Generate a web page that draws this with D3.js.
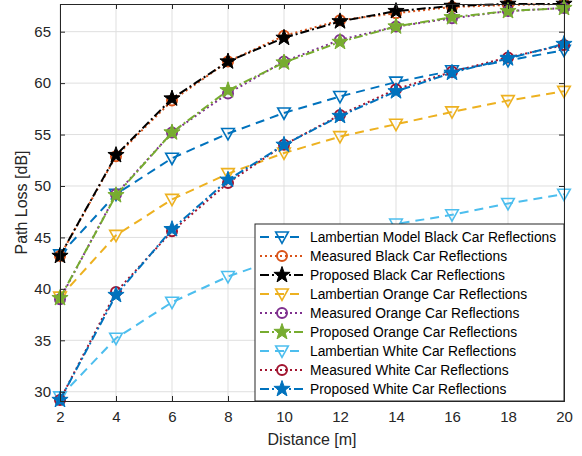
<!DOCTYPE html>
<html>
<head>
<meta charset="utf-8">
<script src="https://d3js.org/d3.v7.min.js"></script>
<style>
  body { margin: 0; background: #fff; }
  svg { display: block; font-family: "Liberation Sans", Arial, sans-serif; }
</style>
</head>
<body>
<div id="chart"></div>
<script>
// data
var distance = [2, 4, 6, 8, 10, 12, 14, 16, 18, 20];

var lambBlack   = [43.3, 49.2, 52.7, 55.1, 57.1, 58.7, 60.1, 61.2, 62.2, 63.2];
var measBlack   = [43.2, 52.9, 58.3, 62.1, 64.6, 66.1, 66.8, 67.4, 67.6, 67.7];
var propBlack   = [43.2, 53.0, 58.5, 62.1, 64.4, 66.0, 67.0, 67.5, 67.7, 67.7];
var lambOrange  = [39.2, 45.2, 48.7, 51.2, 53.2, 54.8, 56.0, 57.2, 58.3, 59.2];
var measOrange  = [39.0, 49.2, 55.2, 59.0, 62.1, 64.2, 65.5, 66.3, 67.0, 67.3];
var propOrange  = [39.1, 49.1, 55.2, 59.3, 62.0, 64.0, 65.5, 66.4, 67.0, 67.3];
var lambWhite   = [29.5, 35.2, 38.7, 41.2, 43.1, 44.8, 46.3, 47.2, 48.3, 49.2];
var measWhite   = [29.2, 39.7, 45.6, 50.3, 54.0, 56.9, 59.4, 61.1, 62.5, 63.7];
var propWhite   = [29.2, 39.4, 45.8, 50.6, 54.0, 56.8, 59.2, 61.0, 62.4, 63.8];

var xTicks = [2, 4, 6, 8, 10, 12, 14, 16, 18, 20];
var yTicks = [30, 35, 40, 45, 50, 55, 60, 65];

var series = [
  {name: "Lambertian Model Black Car Reflections", values: lambBlack,  color: "#0072BD", dash: "9,6",       marker: "tri"},
  {name: "Measured Black Car Reflections",         values: measBlack,  color: "#D95319", dash: "2,3",       marker: "circle"},
  {name: "Proposed Black Car Reflections",         values: propBlack,  color: "#000000", dash: "9,3,2,3",   marker: "star"},
  {name: "Lambertian Orange Car Reflections",      values: lambOrange, color: "#EDB120", dash: "9,6",       marker: "tri"},
  {name: "Measured Orange Car Reflections",        values: measOrange, color: "#7E2F8E", dash: "2,3",       marker: "circle"},
  {name: "Proposed Orange Car Reflections",        values: propOrange, color: "#77AC30", dash: "9,3,2,3",   marker: "star"},
  {name: "Lambertian White Car Reflections",       values: lambWhite,  color: "#4DBEEE", dash: "9,6",       marker: "tri"},
  {name: "Measured White Car Reflections",         values: measWhite,  color: "#A2142F", dash: "2,3",       marker: "circle"},
  {name: "Proposed White Car Reflections",         values: propWhite,  color: "#0072BD", dash: "9,3,2,3",   marker: "star"}
];

var W = 582, H = 456;
var padL = 60, padR = 564, padT = 4, padB = 401;

var svg = d3.select("#chart").append("svg").attr("width", W).attr("height", H);

var x = d3.scaleLinear().domain([2, 20]).range([padL, padR]);
var y = d3.scaleLinear().domain([29.1, 67.69]).range([padB, padT]);

// grid
var grid = svg.append("g");
grid.selectAll(".gx").data(xTicks).enter().append("line")
  .attr("x1", d => x(d)).attr("x2", d => x(d)).attr("y1", padT).attr("y2", padB)
  .attr("stroke", "#dfdfdf").attr("stroke-width", 1);
grid.selectAll(".gy").data(yTicks).enter().append("line")
  .attr("x1", padL).attr("x2", padR).attr("y1", d => y(d)).attr("y2", d => y(d))
  .attr("stroke", "#dfdfdf").attr("stroke-width", 1);

// markers
function starPath(ro) {
  var ri = ro * 0.4, p = [];
  for (var i = 0; i < 10; i++) {
    var r = i % 2 ? ri : ro;
    var a = -Math.PI / 2 + i * Math.PI / 5;
    p.push([r * Math.cos(a), r * Math.sin(a)]);
  }
  return "M" + p.join("L") + "Z";
}
var triPath = "M-6.3,-5L6.3,-5L0,6.3Z";

function drawMarker(g, type, color) {
  if (type === "tri") {
    g.append("path").attr("d", triPath).attr("fill", "none")
      .attr("stroke", color).attr("stroke-width", 1.6);
  } else if (type === "circle") {
    g.append("circle").attr("r", 5).attr("fill", "none")
      .attr("stroke", color).attr("stroke-width", 2);
  } else {
    g.append("path").attr("d", starPath(8.5)).attr("fill", color)
      .attr("stroke", color).attr("stroke-width", 1);
  }
}

var line = d3.line().x(d => x(d[0])).y(d => y(d[1]));

var plot = svg.append("g");
series.forEach(function(s) {
  var pts = distance.map((d, i) => [d, s.values[i]]);
  plot.append("path").datum(pts).attr("d", line)
    .attr("fill", "none").attr("stroke", s.color).attr("stroke-width", 2)
    .attr("stroke-dasharray", s.dash);
  pts.forEach(function(p) {
    var g = plot.append("g").attr("transform", "translate(" + x(p[0]) + "," + y(p[1]) + ")");
    drawMarker(g, s.marker, s.color);
  });
});

// axes
var axCol = "#262626";
var xAxis = svg.append("g").attr("transform", "translate(0," + padB + ")")
  .call(d3.axisBottom(x).tickValues(xTicks).tickSize(-5).tickPadding(10));
var xAxisTop = svg.append("g").attr("transform", "translate(0," + padT + ")")
  .call(d3.axisTop(x).tickValues(xTicks).tickSize(-5).tickFormat(""));
var yAxis = svg.append("g").attr("transform", "translate(" + padL + ",0)")
  .call(d3.axisLeft(y).tickValues(yTicks).tickSize(-5).tickPadding(9));
var yAxisRight = svg.append("g").attr("transform", "translate(" + padR + ",0)")
  .call(d3.axisRight(y).tickValues(yTicks).tickSize(-5).tickFormat(""));
[xAxis, xAxisTop, yAxis, yAxisRight].forEach(function(a) {
  a.select(".domain").attr("stroke", axCol).attr("stroke-width", 1);
  a.selectAll(".tick line").attr("stroke", axCol);
  a.selectAll("text").attr("fill", axCol).style("font-size", "15px")
    .style("font-family", "'Liberation Sans', Arial, sans-serif");
});

svg.append("text").attr("x", (padL + padR) / 2).attr("y", 445)
  .attr("text-anchor", "middle").attr("fill", axCol).style("font-size", "16px")
  .text("Distance [m]");
svg.append("text").attr("transform", "translate(27," + ((padT + padB) / 2) + ") rotate(-90)")
  .attr("text-anchor", "middle").attr("fill", axCol).style("font-size", "16px")
  .text("Path Loss [dB]");

// legend
var lg = svg.append("g");
var lx = 255, ly = 224, lw = padR - lx, lh = padB - ly;
lg.append("rect").attr("x", lx).attr("y", ly).attr("width", lw).attr("height", lh)
  .attr("fill", "#fff").attr("stroke", axCol).attr("stroke-width", 1);
series.forEach(function(s, i) {
  var yy = ly + 13 + i * 19;
  lg.append("line").attr("x1", lx + 5).attr("x2", lx + 50).attr("y1", yy).attr("y2", yy)
    .attr("stroke", s.color).attr("stroke-width", 2).attr("stroke-dasharray", s.dash);
  var g = lg.append("g").attr("transform", "translate(" + (lx + 27) + "," + yy + ")");
  drawMarker(g, s.marker, s.color);
  lg.append("text").attr("x", lx + 55).attr("y", yy + 5).attr("fill", "#000")
    .style("font-size", "13.8px").text(s.name);
});
</script>
</body>
</html>
